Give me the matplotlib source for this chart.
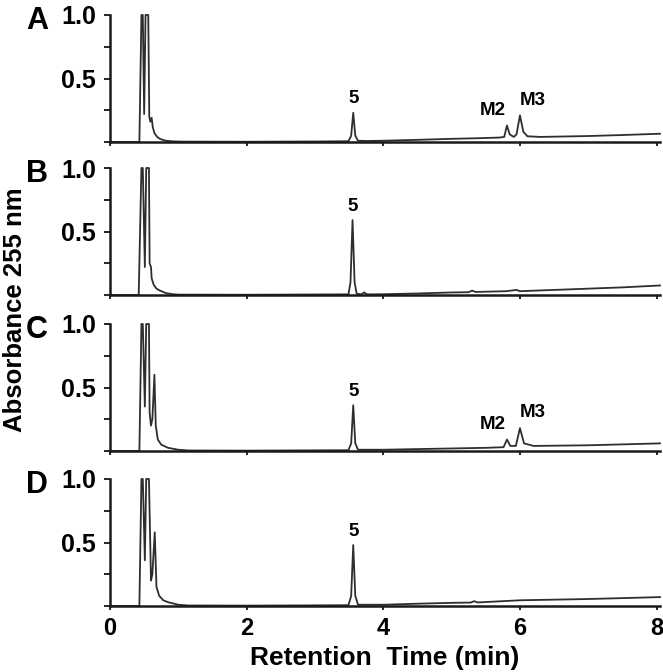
import matplotlib
matplotlib.use("Agg")
import matplotlib.pyplot as plt

plt.rcParams['font.family'] = ['Liberation Sans', 'DejaVu Sans']
plt.rcParams['font.weight'] = 'bold'

# chromatogram traces (time in min, absorbance)
time_a = [0, 0.43, 0.46, 0.48, 0.50, 0.52, 0.56, 0.575, 0.59, 0.61, 0.625, 0.65, 0.69, 0.74, 0.82, 0.92, 1.05,
          2.0, 3.0, 3.49, 3.53, 3.56, 3.59, 3.63, 3.75, 4.0, 4.5, 5.0, 5.4, 5.7, 5.77, 5.81, 5.85,
          5.91, 5.95, 6.0, 6.05, 6.11, 6.3, 7.0, 7.5, 8.05]
abs_a = [0, 0, 1.0, 1.0, 0.22, 1.0, 1.0, 0.2, 0.16, 0.19, 0.12, 0.07, 0.04, 0.022, 0.01, 0.005, 0.003,
         0.002, 0.004, 0.006, 0.05, 0.23, 0.05, 0.01, 0.008, 0.01, 0.017, 0.025, 0.03, 0.035, 0.04, 0.13, 0.06,
         0.04, 0.06, 0.21, 0.08, 0.045, 0.04, 0.047, 0.055, 0.065]

time_b = [0, 0.42, 0.46, 0.48, 0.51, 0.53, 0.57, 0.58, 0.60, 0.61, 0.64, 0.68, 0.73, 0.82, 0.92, 1.0,
          2.0, 3.0, 3.49, 3.52, 3.55, 3.58, 3.61, 3.68, 3.72, 3.76, 4.0, 4.5, 5.0, 5.25, 5.3, 5.35,
          5.8, 5.95, 6.0, 6.5, 7.0, 7.5, 8.05]
abs_b = [0, 0, 1.0, 1.0, 0.22, 1.0, 1.0, 0.25, 0.22, 0.13, 0.08, 0.05, 0.035, 0.015, 0.006, 0.003,
         0.002, 0.004, 0.005, 0.1, 0.59, 0.1, 0.01, 0.005, 0.02, 0.005, 0.006, 0.012, 0.02, 0.022, 0.035, 0.024,
         0.03, 0.04, 0.03, 0.04, 0.05, 0.06, 0.075]

time_c = [0, 0.43, 0.46, 0.48, 0.51, 0.53, 0.57, 0.58, 0.60, 0.62, 0.65, 0.67, 0.70, 0.75, 0.85, 1.0, 1.15,
          2.0, 3.0, 3.49, 3.53, 3.56, 3.59, 3.63, 4.0, 4.5, 5.0, 5.5, 5.76, 5.81, 5.86,
          5.94, 6.0, 6.06, 6.2, 7.0, 8.05]
abs_c = [0, 0, 1.0, 1.0, 0.35, 1.0, 1.0, 0.3, 0.2, 0.25, 0.6, 0.2, 0.09, 0.05, 0.025, 0.01, 0.004,
         0.003, 0.005, 0.006, 0.06, 0.36, 0.06, 0.01, 0.01, 0.015, 0.02, 0.025, 0.03, 0.09, 0.04,
         0.04, 0.18, 0.06, 0.04, 0.045, 0.06]

time_d = [0, 0.43, 0.46, 0.48, 0.51, 0.53, 0.57, 0.60, 0.62, 0.655, 0.68, 0.72, 0.78, 0.85, 1.0, 1.15,
          2.0, 3.0, 3.49, 3.53, 3.56, 3.59, 3.63, 4.0, 4.5, 5.0, 5.28, 5.33, 5.38, 6.0, 7.0, 8.05]
abs_d = [0, 0, 1.0, 1.0, 0.36, 1.0, 1.0, 0.2, 0.25, 0.58, 0.15, 0.08, 0.045, 0.03, 0.01, 0.004,
         0.003, 0.005, 0.006, 0.08, 0.48, 0.08, 0.01, 0.01, 0.018, 0.025, 0.027, 0.038, 0.028, 0.045, 0.055, 0.07]

panel_letters = ["A", "B", "C", "D"]
traces = [(time_a, abs_a), (time_b, abs_b), (time_c, abs_c), (time_d, abs_d)]

# labelled peaks per panel: (label, time, height)
peaks = [
    [("5", 3.56, 0.23), ("M2", 5.81, 0.13), ("M3", 6.0, 0.21)],
    [("5", 3.55, 0.59)],
    [("5", 3.56, 0.36), ("M2", 5.81, 0.09), ("M3", 6.0, 0.18)],
    [("5", 3.56, 0.48)],
]
label_offsets = {"5": (0, 10), "M2": (-10, 11), "M3": (9, 11)}

xticks = [0, 2, 4, 6, 8]
yticks = [0, 0.25, 0.5, 0.75, 1.0]
ytick_labels = ["", "", "0.5", "", "1.0"]

W, H = 663, 672
fig = plt.figure(figsize=(W / 100, H / 100), dpi=100)

bottoms_px = [142, 295, 451, 606]
line_col = "#2e2e2e"

for i, (t, a) in enumerate(traces):
    bot = bottoms_px[i]
    ax = fig.add_axes([110 / W, 1 - bot / H, 550 / W, 127 / H])
    ax.plot(t, a, color=line_col, lw=1.3, clip_on=False)
    ax.set_xlim(0, 8.05)
    ax.set_ylim(0, 1.0)
    for s in ["top", "right"]:
        ax.spines[s].set_visible(False)
    for s in ["left", "bottom"]:
        ax.spines[s].set_linewidth(1.8)
        ax.spines[s].set_color("#1a1a1a")
    ax.set_yticks(yticks)
    ax.set_yticklabels(ytick_labels)
    ax.set_xticks(xticks)
    ax.tick_params(axis="y", length=4, width=1.2, labelsize=18, pad=6)
    ax.tick_params(axis="x", length=3, width=1.2, labelsize=17, pad=5)
    if i < 3:
        ax.set_xticklabels([])
    ax.patch.set_visible(False)

    for lab, pt, ph in peaks[i]:
        dx, dy = label_offsets[lab]
        ax.annotate(lab, (pt, ph), xytext=(dx, dy), textcoords="offset points",
                    ha="center", va="center", fontsize=13.5, fontweight="bold")

    fig.text(37 / W, 1 - (bot - 121) / H, panel_letters[i], ha="center", va="center",
             fontsize=22, fontweight="bold")

fig.text(15 / W, 1 - 310 / H, "Absorbance 255 nm", rotation=90, ha="center", va="center",
         fontsize=18.5, fontweight="bold")
fig.text(385 / W, 1 - 658 / H, "Retention  Time (min)", ha="center", va="center",
         fontsize=19, fontweight="bold")

fig.savefig("out.png", dpi=100)
